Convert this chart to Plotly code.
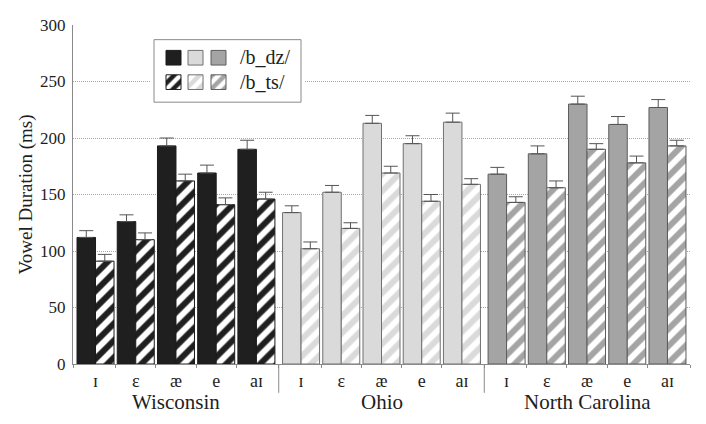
import plotly.graph_objects as go

# ---------------- data ----------------
vowels = ["ɪ", "ɛ", "æ", "e", "aɪ"]
states = ["Wisconsin", "Ohio", "North Carolina"]
legend_labels = ["/b_dz/", "/b_ts/"]
y_ticks = [0, 50, 100, 150, 200, 250, 300]

wisconsin_dz = [112, 126, 193, 169, 190]
wisconsin_dz_err = [6, 6, 7, 7, 8]
wisconsin_ts = [91, 110, 162, 141, 146]
wisconsin_ts_err = [6, 6, 6, 6, 6]

ohio_dz = [134, 152, 213, 195, 214]
ohio_dz_err = [6, 6, 7, 7, 8]
ohio_ts = [102, 120, 169, 144, 159]
ohio_ts_err = [6, 5, 6, 6, 5]

nc_dz = [168, 186, 230, 212, 227]
nc_dz_err = [6, 7, 7, 7, 7]
nc_ts = [143, 156, 190, 178, 193]
nc_ts_err = [5, 6, 5, 6, 5]

# ---------------- style ----------------
FONT = "Liberation Serif, Times New Roman, DejaVu Serif, serif"
COLORS = ["#1f1f1f", "#dadada", "#a4a4a4"]
OUTLINES = ["#1a1a1a", "#707070", "#5c5c5c"]
AXIS_COLOR = "#8a8a8a"
TEXT_COLOR = "#1e1e1e"
GROUP_GAP = 0.11
BAR_W = 0.46

fig = go.Figure()

groups = [
    (wisconsin_dz, wisconsin_dz_err, wisconsin_ts, wisconsin_ts_err),
    (ohio_dz, ohio_dz_err, ohio_ts, ohio_ts_err),
    (nc_dz, nc_dz_err, nc_ts, nc_ts_err),
]

centers = []
for g, (dz, dze, ts, tse) in enumerate(groups):
    xs = [g * (len(vowels) + GROUP_GAP) + i for i in range(len(vowels))]
    centers += xs
    fig.add_trace(go.Bar(
        x=xs, y=dz, width=BAR_W, offset=-BAR_W,
        marker=dict(color=COLORS[g], line=dict(color=OUTLINES[g], width=1)),
        error_y=dict(type="data", symmetric=False, array=dze,
                     arrayminus=[0] * len(dze), color="#555555",
                     thickness=1, width=7),
        showlegend=False, hoverinfo="skip",
    ))
    fig.add_trace(go.Bar(
        x=xs, y=ts, width=BAR_W, offset=0,
        marker=dict(color=COLORS[g], line=dict(color=OUTLINES[g], width=1),
                    pattern=dict(shape="/", fgcolor=COLORS[g], bgcolor="white",
                                 size=12, solidity=0.5, fillmode="replace")),
        error_y=dict(type="data", symmetric=False, array=tse,
                     arrayminus=[0] * len(tse), color="#555555",
                     thickness=1, width=7),
        showlegend=False, hoverinfo="skip",
    ))

n = len(vowels)
x_min = -0.56
x_max = 2 * (n + GROUP_GAP) + (n - 1) + 0.56
boundaries = [x_min]
for g in range(3):
    base = g * (n + GROUP_GAP)
    boundaries += [base + i + 0.5 for i in range(n - 1)]
    if g < 2:
        boundaries.append(base + n - 0.5 + GROUP_GAP / 2)
boundaries.append(x_max)

# group separators and labels
for g in range(2):
    sx = g * (n + GROUP_GAP) + n - 0.5 + GROUP_GAP / 2
    fig.add_shape(type="line", xref="x", yref="paper", x0=sx, x1=sx,
                  y0=0, y1=-0.085, line=dict(color=AXIS_COLOR, width=1))
for g, name in enumerate(states):
    fig.add_annotation(x=g * (n + GROUP_GAP) + (n - 1) / 2, y=-0.112,
                       xref="x", yref="paper", text=name, showarrow=False,
                       yanchor="middle", font=dict(family=FONT, size=21, color=TEXT_COLOR))

# ---------------- custom legend (page-pixel overlay axes) ----------------
fig.add_trace(go.Bar(
    x=[173.5, 195.5, 218.5], y=[15, 15, 15], base=[43, 43, 43], width=15,
    marker=dict(color=COLORS, line=dict(color=OUTLINES, width=1)),
    xaxis="x2", yaxis="y2", showlegend=False, hoverinfo="skip",
))
fig.add_trace(go.Bar(
    x=[173.5, 195.5, 218.5], y=[15, 15, 15], base=[68, 68, 68], width=15,
    marker=dict(color=COLORS, line=dict(color=OUTLINES, width=1),
                pattern=dict(shape="/", fgcolor=COLORS, bgcolor="white",
                             size=9, solidity=0.5, fillmode="replace")),
    xaxis="x2", yaxis="y2", showlegend=False, hoverinfo="skip",
))
fig.add_shape(type="rect", xref="x2", yref="y2", x0=154, x1=301, y0=32, y1=96,
              fillcolor="white", line=dict(color="#8a8a8a", width=1), layer="between")
for lbl, yy in zip(legend_labels, [50, 75]):
    fig.add_annotation(x=238, y=yy, xref="x2", yref="y2", text=lbl, showarrow=False,
                       xanchor="left", yanchor="middle",
                       font=dict(family=FONT, size=20, color=TEXT_COLOR))

# page offset of the plot div (default body margin)
OFF = 8
PAGE_L, PAGE_R, PAGE_T, PAGE_B = 73, 690, 17, 364  # plot area in page pixels
W, H = 706 - 2 * OFF, 424 - 2 * OFF
pw, ph = PAGE_R - PAGE_L, PAGE_B - PAGE_T
ML, MT = PAGE_L - OFF, PAGE_T - OFF
MR, MB = W - ML - pw, H - MT - ph
lx0, lx1, ly0, ly1 = 150, 305, 28, 100

fig.update_layout(
    width=W, height=H,
    margin=dict(l=ML, r=MR, t=MT, b=MB, pad=0),
    paper_bgcolor="white", plot_bgcolor="white",
    barmode="overlay",
    font=dict(family=FONT, color=TEXT_COLOR),
    xaxis=dict(range=[x_min, x_max], tickmode="array", tickvals=centers,
               ticktext=vowels * 3, ticks="", showline=True, linecolor=AXIS_COLOR,
               showgrid=False, zeroline=False,
               tickfont=dict(family=FONT, size=18, color=TEXT_COLOR),
               minor=dict(tickmode="array", tickvals=boundaries, ticks="outside",
                          ticklen=3, tickcolor=AXIS_COLOR, showgrid=False)),
    yaxis=dict(range=[0, 300], tickmode="array", tickvals=y_ticks, showline=True,
               linecolor=AXIS_COLOR, ticks="", ticklabelstandoff=3,
               ticklabeloverflow="allow",
               showgrid=True, gridcolor="#a8a8a8", griddash="1px,1px", gridwidth=1,
               zeroline=False, tickfont=dict(family=FONT, size=17, color=TEXT_COLOR),
               title=dict(text="Vowel Duration (ms)",
                          font=dict(family=FONT, size=19, color=TEXT_COLOR),
                          standoff=2)),
    xaxis2=dict(domain=[(lx0 - PAGE_L) / pw, (lx1 - PAGE_L) / pw], range=[lx0, lx1],
                visible=False, anchor="y2"),
    yaxis2=dict(domain=[(PAGE_B - ly1) / ph, (PAGE_B - ly0) / ph], range=[ly1, ly0],
                visible=False, anchor="x2"),
)

fig.write_html("out.html")
